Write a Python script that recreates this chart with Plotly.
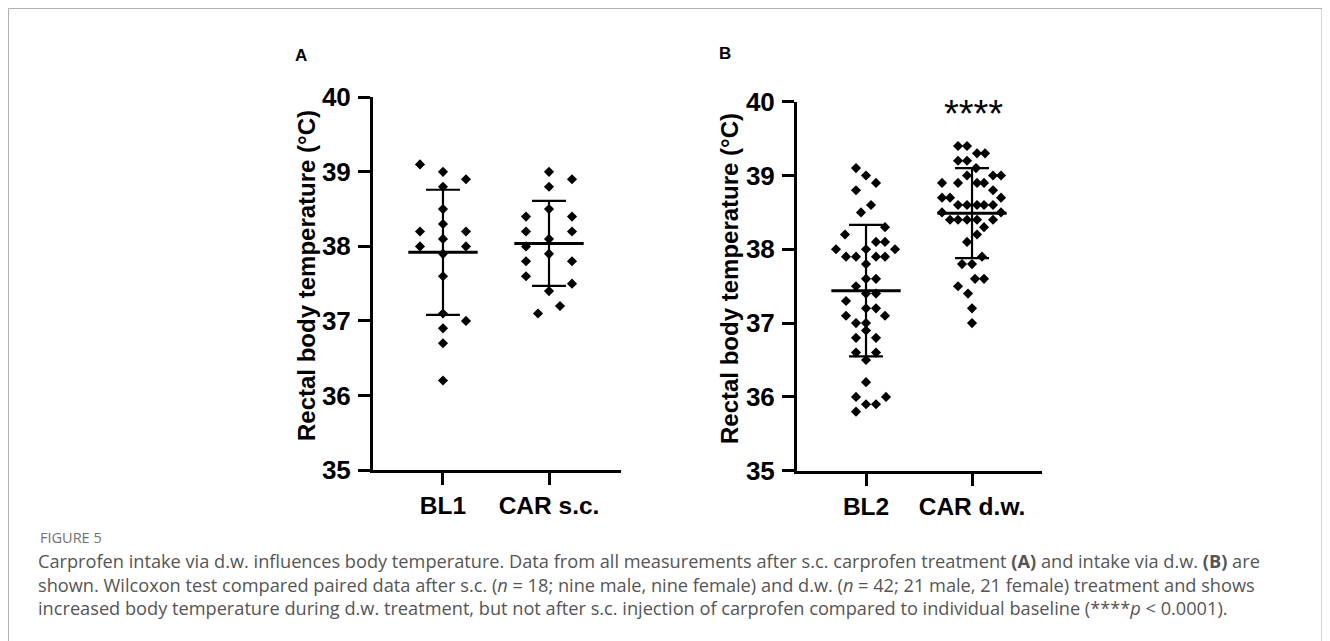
import plotly.graph_objects as go

W, H = 1330, 641
OFF = 8  # the page body margin shifts the figure by 8 px; positions below are screen px

# ---------------- data ----------------
categories_a = ["BL1", "CAR s.c."]
categories_b = ["BL2", "CAR d.w."]

bl1 = [39.1, 39.0, 38.9, 38.8, 38.5, 38.3, 38.2, 38.2, 38.1, 38.0, 38.0, 37.9,
       37.6, 37.1, 37.0, 36.9, 36.7, 36.2]
bl1_dx = [-23, 0, 23, 0, 0, 0, -23, 23, 0, -23, 23, 0, 0, 0, 23, 0, 0, 0]

car_sc = [39.0, 38.9, 38.8, 38.5, 38.4, 38.4, 38.2, 38.2, 38.1, 38.0, 37.9,
          37.8, 37.8, 37.6, 37.5, 37.4, 37.2, 37.1]
car_sc_dx = [0, 23, 0, 0, -23, 23, -23, 23, 0, -23, 0, -23, 23, -23, 23, 0, 11, -11]

bl2 = [39.1, 39.0, 38.9, 38.8, 38.6, 38.5, 38.3, 38.2, 38.1, 38.1, 38.0, 38.0,
       38.0, 37.9, 37.9, 37.9, 37.9, 37.8, 37.6, 37.6, 37.5, 37.4, 37.4, 37.3,
       37.2, 37.2, 37.1, 37.1, 37.0, 37.0, 36.9, 36.8, 36.8, 36.6, 36.6, 36.5,
       36.2, 36.0, 36.0, 35.9, 35.9, 35.8]
bl2_dx = [-10, 0, 10, -10, 5, -5, 19, -21, 10, 19, -30, 0, 29, -20, -10, 10, 19,
          0, 0, 10, -10, 0, 10, -20, 0, 10, -20, 19, -10, 0, 0, -10, 10, -10, 10,
          0, 0, -10, 20, 0, 10, -10]

car_dw = [39.4, 39.4, 39.3, 39.3, 39.2, 39.2, 39.1, 39.0, 39.0, 39.0, 38.9,
          38.9, 38.9, 38.9, 38.8, 38.7, 38.7, 38.7, 38.6, 38.6, 38.6, 38.6,
          38.6, 38.5, 38.5, 38.4, 38.4, 38.4, 38.4, 38.4, 38.3, 38.2, 38.1,
          37.9, 37.8, 37.8, 37.6, 37.6, 37.5, 37.4, 37.2, 37.0]
car_dw_dx = [-14, -5, 5, 13, -14, -5, 4, -5, 21, 29, -30, -14, 5, 12, 21, -30,
             -22, 29, -14, -5, 5, 12, 21, -30, 29, -22, -14, -5, 5, 21, 12, 5,
             -5, 10, -10, 0, 3, 12, -14, -4, 0, 0]

means_a = [37.92, 38.04]
sds_a = [0.84, 0.57]
means_b = [37.44, 38.49]
sds_b = [0.89, 0.61]

y_ticks = [35, 36, 37, 38, 39, 40]
y_title = "Rectal body temperature (°C)"
signif_b = "****"

# ---------------- layout geometry (screen px) ----------------
XA = (373, 621, -0.66, 1.679)    # px left, px right, range lo, range hi
XB = (797, 1042, -0.651, 1.66)
YA = (470.0, 97.3)               # px bottom, px top
YB = (470.7, 101.7)


def fx(px):
    return (px - OFF) / W


def fy(py):
    return 1 - (py - OFF) / H


def px_per_unit(ax):
    return (ax[1] - ax[0]) / (ax[3] - ax[2])


fig = go.Figure()

MS = 7.8
MEAN_HALF = 0.327
CAP_HALF = 0.16


def add_group(xref, yref, cat, vals, dx, ax):
    ppu = px_per_unit(ax)
    xs = [cat + d / ppu for d in dx]
    fig.add_trace(go.Scatter(
        x=xs, y=vals, mode="markers", xaxis=xref, yaxis=yref,
        marker=dict(symbol="diamond", size=MS, color="black", line=dict(width=0)),
        showlegend=False, hoverinfo="y"))


def add_stats(xref, yref, cat, m, s):
    fig.add_trace(go.Scatter(x=[cat, cat], y=[m - s, m + s], mode="lines",
                             xaxis=xref, yaxis=yref,
                             line=dict(color="black", width=2.2),
                             showlegend=False, hoverinfo="skip"))
    for yy in (m - s, m + s):
        fig.add_trace(go.Scatter(x=[cat - CAP_HALF, cat + CAP_HALF], y=[yy, yy],
                                 mode="lines", xaxis=xref, yaxis=yref,
                                 line=dict(color="black", width=2.2),
                                 showlegend=False, hoverinfo="skip"))
    fig.add_trace(go.Scatter(x=[cat - MEAN_HALF, cat + MEAN_HALF], y=[m, m],
                             mode="lines", xaxis=xref, yaxis=yref,
                             line=dict(color="black", width=3),
                             showlegend=False, hoverinfo="skip"))


add_group("x", "y", 0, bl1, bl1_dx, XA)
add_group("x", "y", 1, car_sc, car_sc_dx, XA)
add_group("x2", "y2", 0, bl2, bl2_dx, XB)
add_group("x2", "y2", 1, car_dw, car_dw_dx, XB)
for i in range(2):
    add_stats("x", "y", i, means_a[i], sds_a[i])
    add_stats("x2", "y2", i, means_b[i], sds_b[i])

tickfont_y = dict(family="Arial, Liberation Sans", size=26, color="black", weight="bold")
tickfont_x = dict(family="Arial, Liberation Sans", size=24.5, color="black", weight="bold")


def xaxis(ax, cats):
    return dict(domain=[fx(ax[0]), fx(ax[1])], range=[ax[2], ax[3]],
                tickvals=[0, 1], ticktext=cats, ticks="outside", ticklen=12,
                tickwidth=3, tickcolor="black", showline=True, linewidth=3,
                linecolor="black", showgrid=False, zeroline=False,
                tickfont=tickfont_x, fixedrange=True, automargin=False)


def yaxis(ay, anchor):
    return dict(domain=[fy(ay[0]), fy(ay[1])], range=[35, 40],
                tickvals=y_ticks, ticks="outside", ticklen=12, tickwidth=3,
                tickcolor="black", showline=True, linewidth=3, linecolor="black",
                showgrid=False, zeroline=False, tickfont=tickfont_y,
                ticklabelstandoff=2,
                anchor=anchor, fixedrange=True, automargin=False)


fig.update_layout(
    width=W, height=H,
    margin=dict(l=0, r=0, t=0, b=0, pad=0, autoexpand=False),
    paper_bgcolor="white", plot_bgcolor="white", showlegend=False,
    xaxis=dict(**xaxis(XA, categories_a), anchor="y"),
    yaxis=yaxis(YA, "x"),
    xaxis2=dict(**xaxis(XB, categories_b), anchor="y2"),
    yaxis2=yaxis(YB, "x2"),
)

ann = []


def px_ann(text, x, y, **kw):
    d = dict(text=text, x=fx(x), y=fy(y), xref="paper", yref="paper",
             showarrow=False)
    d.update(kw)
    ann.append(d)


title_font = dict(family="Arial, Liberation Sans", size=24, color="black", weight="bold")
px_ann(y_title, 306, 276, textangle=-90, font=title_font, xanchor="center", yanchor="middle")
px_ann(y_title, 730, 279, textangle=-90, font=title_font, xanchor="center", yanchor="middle")

letter_font = dict(family="Arial, Liberation Sans", size=17, color="black", weight="bold")
px_ann("A", 301, 55, font=letter_font, xanchor="center", yanchor="middle")
px_ann("B", 725, 53, font=letter_font, xanchor="center", yanchor="middle")

px_ann(signif_b, 973, 114, font=dict(family="Arial, Liberation Sans", size=38, color="black"),
       xanchor="center", yanchor="middle")

cap_font = dict(family="Open Sans", size=18.2, color="#555555")
px_ann("FIGURE 5", 38, 537, font=dict(family="Open Sans", size=14.5, color="#707070"),
       xanchor="left", yanchor="middle")
caption_lines = [
    "Carprofen intake via d.w. influences body temperature. Data from all measurements after s.c. carprofen treatment <b>(A)</b> and intake via d.w. <b>(B)</b> are",
    "shown. Wilcoxon test compared paired data after s.c. (<i>n</i> = 18; nine male, nine female) and d.w. (<i>n</i> = 42; 21 male, 21 female) treatment and shows",
    "increased body temperature during d.w. treatment, but not after s.c. injection of carprofen compared to individual baseline (****<i>p</i> &lt; 0.0001).",
]
for i, line in enumerate(caption_lines):
    px_ann(line, 36, 561 + 23.5 * i, font=cap_font, xanchor="left", yanchor="middle")

fig.update_layout(annotations=ann)

# light frame around the figure
FL, FR, FT = 8.5, 1322, 8.5
for (x0, y0, x1, y1) in [(FL, FT, FL, 660), (FR, FT, FR, 660), (FL, FT, FR, FT)]:
    fig.add_shape(type="line", xref="paper", yref="paper",
                  x0=fx(x0), x1=fx(x1), y0=fy(y0), y1=fy(y1),
                  line=dict(color="#b0b0b0", width=1))

fig.write_html("out.html")
